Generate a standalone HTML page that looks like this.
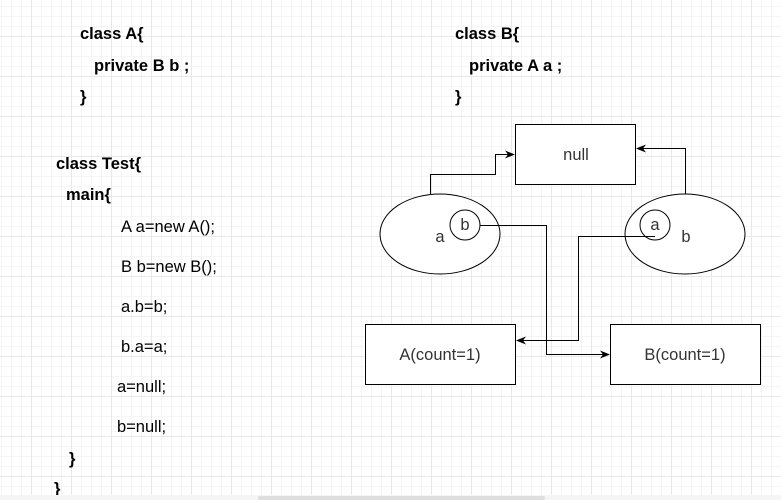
<!DOCTYPE html><html><head><style>
body{margin:0;width:781px;height:500px;overflow:hidden;background:#fff;
background-image:linear-gradient(#e8e8e8 1px,transparent 1px),linear-gradient(90deg,#e8e8e8 1px,transparent 1px),linear-gradient(#f5f5f5 1px,transparent 1px),linear-gradient(90deg,#f5f5f5 1px,transparent 1px);
background-size:40px 40px,40px 40px,10px 10px,10px 10px;background-position:31px 36px,31px 36px,1px 6px,1px 6px;position:relative;font-family:"Liberation Sans",sans-serif;}
.t{position:absolute;font-size:16.5px;color:#000;white-space:nowrap;line-height:20px}
.b{font-weight:bold}
</style></head><body>
<div class="t b" style="left:80px;top:24px">class A{</div>
<div class="t b" style="left:94px;top:56px">private B b ;</div>
<div class="t b" style="left:80px;top:87px">}</div>
<div class="t b" style="left:455px;top:24px">class B{</div>
<div class="t b" style="left:469px;top:56px">private A a ;</div>
<div class="t b" style="left:455px;top:87px">}</div>
<div class="t b" style="left:56px;top:154px">class Test{</div>
<div class="t b" style="left:66px;top:185px">main{</div>
<div class="t" style="left:121px;top:217px">A a=new A();</div>
<div class="t" style="left:121px;top:257px">B b=new B();</div>
<div class="t" style="left:121px;top:297px">a.b=b;</div>
<div class="t" style="left:121px;top:337px">b.a=a;</div>
<div class="t" style="left:117px;top:377px">a=null;</div>
<div class="t" style="left:117px;top:417px">b=null;</div>
<div class="t b" style="left:69px;top:449px">}</div>
<div class="t b" style="left:54px;top:479px">}</div>
<svg width="781" height="500" style="position:absolute;left:0;top:0" font-family="Liberation Sans,sans-serif" font-size="16.5">
<defs><marker id="m" markerWidth="10" markerHeight="8" refX="9" refY="4" orient="auto" markerUnits="userSpaceOnUse"><path d="M0,0 L10,4 L0,8 L3,4z" fill="#000"/></marker></defs>
<g fill="#fff" stroke="#000" stroke-width="1">
<rect x="515.5" y="124.5" width="120" height="60"/>
<ellipse cx="440" cy="234" rx="60" ry="40"/>
<ellipse cx="685" cy="234" rx="60" ry="40"/>
<circle cx="465" cy="225" r="15"/>
<circle cx="655" cy="225" r="15"/>
<rect x="365.5" y="324.5" width="150" height="60"/>
<rect x="610.5" y="324.5" width="150" height="60"/>
</g>
<g fill="none" stroke="#000" stroke-width="1">
<path d="M430.5,194 V174.5 H495.5 V154.5 H514" marker-end="url(#m)"/>
<path d="M685.5,194 V148.5 H637" marker-end="url(#m)"/>
<path d="M480,225.5 H546.5 V354.5 H609" marker-end="url(#m)"/>
<path d="M655,236.5 H578.5 V340.5 H517" marker-end="url(#m)"/>
</g>
<g fill="#333" text-anchor="middle">
<text x="576" y="160">null</text>
<text x="440" y="242">a</text>
<text x="465" y="230">b</text>
<text x="655" y="230">a</text>
<text x="686" y="242">b</text>
<text x="440" y="360">A(count=1)</text>
<text x="685" y="360">B(count=1)</text>
</g>
<rect x="0" y="495" width="781" height="5" fill="#f3f5f7"/>
<rect x="258" y="496" width="287" height="4" rx="2" fill="#dcdee0"/>
</svg>
</body></html>
